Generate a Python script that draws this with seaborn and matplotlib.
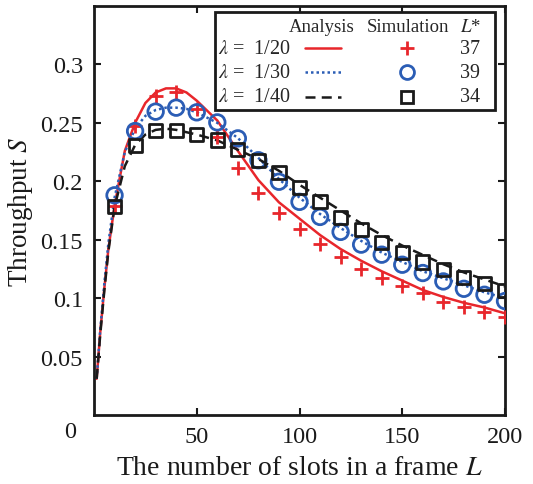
import numpy as np
import pandas as pd
import matplotlib
matplotlib.use("Agg")
import matplotlib.pyplot as plt
import seaborn as sns
from matplotlib.lines import Line2D
from matplotlib.patches import Rectangle

# ---------------- data ----------------
L_ana = [1.3, 3, 5, 7, 10, 15, 20, 25, 30, 35, 40, 45, 50, 60, 70, 80, 90, 100,
         110, 120, 130, 140, 150, 160, 170, 180, 190, 200]
S_ana_20 = [0.031, 0.070, 0.108, 0.142, 0.179, 0.226, 0.250, 0.267, 0.276, 0.2795,
            0.2795, 0.276, 0.269, 0.252, 0.226, 0.201, 0.182, 0.168, 0.154, 0.142,
            0.132, 0.123, 0.115, 0.107, 0.101, 0.096, 0.092, 0.087]
S_ana_30 = [0.031, 0.072, 0.112, 0.147, 0.186, 0.225, 0.245, 0.256, 0.261, 0.263,
            0.263, 0.262, 0.259, 0.250, 0.237, 0.220, 0.202, 0.186, 0.172, 0.160,
            0.149, 0.139, 0.131, 0.123, 0.117, 0.111, 0.105, 0.100]
S_ana_40 = [0.031, 0.068, 0.106, 0.140, 0.178, 0.213, 0.231, 0.240, 0.244, 0.245,
            0.244, 0.242, 0.240, 0.235, 0.227, 0.219, 0.209, 0.197, 0.186, 0.175,
            0.164, 0.154, 0.145, 0.137, 0.129, 0.122, 0.116, 0.110]

L_sim = [10, 20, 30, 40, 50, 60, 70, 80, 90, 100, 110, 120, 130, 140, 150, 160,
         170, 180, 190, 200]
S_sim_20 = [0.179, 0.247, 0.273, 0.276, 0.262, 0.238, 0.211, 0.190, 0.173, 0.159,
            0.146, 0.135, 0.125, 0.117, 0.110, 0.104, 0.097, 0.0925, 0.088, 0.0835]
S_sim_30 = [0.188, 0.243, 0.2596, 0.263, 0.259, 0.2504, 0.2367, 0.218, 0.1996,
            0.1824, 0.1695, 0.1567, 0.1458, 0.1372, 0.1286, 0.1215, 0.1143, 0.108,
            0.1029, 0.0975]
S_sim_40 = [0.1786, 0.2304, 0.2433, 0.2433, 0.240, 0.2353, 0.2275, 0.218, 0.2075,
            0.1944, 0.183, 0.1687, 0.159, 0.1475, 0.139, 0.131, 0.1246, 0.118,
            0.1123, 0.1066]

lambda_labels = ["1/20", "1/30", "1/40"]
L_star = [37, 39, 34]
x_ticks = [50, 100, 150, 200]
y_ticks = [0.05, 0.1, 0.15, 0.2, 0.25, 0.3]
y_tick_labels = ["0.05", "0.1", "0.15", "0.2", "0.25", "0.3"]

# ---------------- style ----------------
sns.set_theme(style="ticks")
plt.rcParams["font.family"] = ["Liberation Serif", "DejaVu Serif"]
plt.rcParams["mathtext.fontset"] = "stix"
plt.rcParams["axes.linewidth"] = 2.0

RED = "#e8262b"
BLUE = "#2b5db5"
BLACK = "#1a1a1a"
colors = [RED, BLUE, BLACK]
styles = ["-", (0, (1, 1.2)), (0, (4, 2.5))]

fig = plt.figure(figsize=(5.33, 4.85), dpi=100)
ax = fig.add_axes([94 / 533, 69 / 485, 411 / 533, 409 / 485])

ana = [S_ana_20, S_ana_30, S_ana_40]
for i in range(3):
    df_a = pd.DataFrame({"L": L_ana, "S": ana[i]})
    sns.lineplot(data=df_a, x="L", y="S", ax=ax, color=colors[i],
                 linestyle=styles[i], linewidth=1.8, sort=False, zorder=2)

df20 = pd.DataFrame({"L": L_sim, "S": S_sim_20})
sns.scatterplot(data=df20, x="L", y="S", ax=ax, marker="+", s=110,
                color=RED, linewidth=2.0, zorder=3)
df30 = pd.DataFrame({"L": L_sim, "S": S_sim_30})
sns.scatterplot(data=df30, x="L", y="S", ax=ax, marker="o", s=125,
                facecolor="none", edgecolor=BLUE, linewidth=2.0, zorder=3)
df40 = pd.DataFrame({"L": L_sim, "S": S_sim_40})
sns.scatterplot(data=df40, x="L", y="S", ax=ax, marker="s", s=90,
                facecolor="none", edgecolor=BLACK, linewidth=2.0, zorder=3)

ax.set_xlim(0, 200)
ax.set_ylim(0, 0.35)
ax.set_xticks(x_ticks)
ax.set_xticklabels([str(t) for t in x_ticks])
ax.set_yticks(y_ticks)
ax.set_yticklabels(y_tick_labels)
ax.tick_params(direction="in", length=5, width=1.5, top=True, right=True,
               labelsize=17.5, colors=BLACK, pad=8)
for sp in ax.spines.values():
    sp.set_visible(True)
    sp.set_color(BLACK)
    sp.set_linewidth(2.0)

ax.set_xlabel("The number of slots in a frame $L$", fontsize=20, color=BLACK,
              labelpad=6)
ax.set_ylabel("Throughput $S$", fontsize=19.5, color=BLACK, labelpad=4)
fig.text(70 / 533, 1 - 432 / 485, "0", fontsize=17.5, ha="center", va="center",
         color=BLACK)

# ---------------- custom legend table ----------------
def fx(px):
    return (px - 94) / 411.0

def fy(py):
    return (416 - py) / 409.0

ax.add_patch(Rectangle((fx(215), fy(111)), fx(495) - fx(215), fy(13) - fy(111),
                       transform=ax.transAxes, fill=True, facecolor="white",
                       edgecolor=BLACK, linewidth=2.0, zorder=5))
fs = 14.5
hfs = 13.5
ax.text(fx(322), fy(27), "Analysis", transform=ax.transAxes, ha="center",
        va="center", fontsize=hfs, zorder=6)
ax.text(fx(408), fy(27), "Simulation", transform=ax.transAxes, ha="center",
        va="center", fontsize=hfs, zorder=6)
ax.text(fx(471), fy(27), "$L$*", transform=ax.transAxes, ha="center",
        va="center", fontsize=hfs, zorder=6)
rows_y = [49, 73, 98]
mk = [dict(marker="+", markersize=10, markeredgewidth=2.0, color=RED),
      dict(marker="o", markersize=10, markeredgewidth=2.0, markerfacecolor="none",
           markeredgecolor=BLUE),
      dict(marker="s", markersize=8.5, markeredgewidth=2.0,
           markerfacecolor="none", markeredgecolor=BLACK)]
for i in range(3):
    y = fy(rows_y[i])
    ax.text(fx(218), y, r"$\lambda$ =  " + lambda_labels[i], transform=ax.transAxes,
            ha="left", va="center", fontsize=fs, zorder=6)
    ax.add_line(Line2D([fx(305), fx(341)], [y, y], transform=ax.transAxes,
                       color=colors[i], linestyle=styles[i], linewidth=1.8,
                       zorder=6))
    ax.add_line(Line2D([fx(407)], [y], transform=ax.transAxes, linestyle="none",
                       zorder=6, **mk[i]))
    ax.text(fx(470), y, str(L_star[i]), transform=ax.transAxes, ha="center",
            va="center", fontsize=fs, zorder=6)

fig.savefig("out.png", dpi=100)
